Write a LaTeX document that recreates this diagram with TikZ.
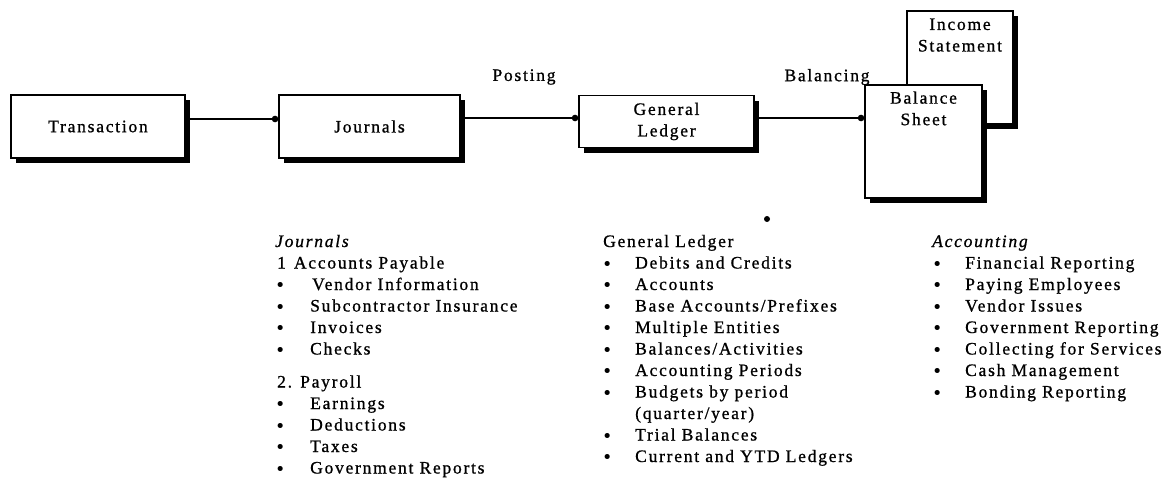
\documentclass[tikz,border=0pt]{standalone}
\usepackage{fontspec}
\setmainfont{Liberation Serif}[LetterSpace=10, FakeBold=0.9]
\newfontfamily\dotfont{DejaVu Sans}
\usetikzlibrary{arrows.meta,shadows}
% a heavier list bullet
\newcommand\itemdot{\raisebox{-1.5pt}{\dotfont •}}
\begin{document}
\begin{tikzpicture}[x=1pt,y=-1pt,
  every node/.style={font=\fontsize{17.5}{21.5}\selectfont, inner sep=0pt},
  stage/.style={draw=black, line width=1.4pt, fill=white,
    drop shadow={shadow xshift=5pt, shadow yshift=-5pt, fill=black, opacity=1}},
  link/.style={line width=1.4pt, -{Circle[length=6.5pt]}},
  listcol/.style={anchor=base west, align=left},
  dotmark/.style={circle, fill=black, minimum size=6pt}
]
\useasboundingbox (0,0) rectangle (1172,487);

% process chain
\node[stage, minimum width=174pt, minimum height=63pt] (trans) at (98,126.5) {Transaction};
\node[stage, minimum width=181pt, minimum height=63pt] (jour) at (369.5,126.5) {Journals};
\node[stage, minimum width=175pt, minimum height=52pt, align=center] (gl) at (666.5,121.5) {General\\Ledger};

% financial statements (income statement sits behind the balance sheet)
\node[stage, minimum width=106pt, minimum height=113pt] (inc) at (960,67.5) {};
\node[anchor=north, align=center] (inctext) at ([yshift=-8pt]inc.north) {Income\\Statement};
\node[stage, minimum width=117pt, minimum height=113pt] (bs) at (923.5,141.5) {};
\node[anchor=north, align=center] (bstext) at ([yshift=-7pt]bs.north) {Balance\\Sheet};

% connectors
\draw[link] ([yshift=7.5pt]trans.east) -- ([yshift=7.5pt]jour.west);
\draw[link] ([yshift=8.5pt]jour.east) -- ([yshift=3.5pt]gl.west);
\draw[link] ([yshift=3.5pt]gl.east) -- ([yshift=23.5pt]bs.west);

\node (post) at (524,77) {Posting};
\node (bal) at (827,77) {Balancing};

\node[dotmark] (stray) at (767,219) {};

% detail lists
\node[listcol] (jlist) at (275,247) {\begin{tabular}[t]{@{}p{35pt}@{}l@{}}
\multicolumn{2}{@{}l@{}}{\itshape Journals}\\
\multicolumn{2}{@{}l@{}}{\hspace{2pt}1\hspace{8pt}Accounts Payable}\\
\itemdot & \hspace{2pt}Vendor Information\\
\itemdot & Subcontractor Insurance\\
\itemdot & Invoices\\
\itemdot & Checks\\[11.5pt]
\multicolumn{2}{@{}l@{}}{\hspace{2pt}2. Payroll}\\
\itemdot & Earnings\\
\itemdot & Deductions\\
\itemdot & Taxes\\
\itemdot & Government Reports
\end{tabular}};

\node[listcol] (gllist) at (602,247) {\begin{tabular}[t]{@{}p{33pt}@{}l@{}}
\multicolumn{2}{@{}l@{}}{\hspace{1pt}General Ledger}\\
\itemdot & Debits and Credits\\
\itemdot & Accounts\\
\itemdot & Base Accounts/Prefixes\\
\itemdot & Multiple Entities\\
\itemdot & Balances/Activities\\
\itemdot & Accounting Periods\\
\itemdot & Budgets by period\\
 & (quarter/year)\\
\itemdot & Trial Balances\\
\itemdot & Current and YTD Ledgers
\end{tabular}};

\node[listcol] (aclist) at (932,247) {\begin{tabular}[t]{@{}p{33pt}@{}l@{}}
\multicolumn{2}{@{}l@{}}{\itshape Accounting}\\
\itemdot & Financial Reporting\\
\itemdot & Paying Employees\\
\itemdot & Vendor Issues\\
\itemdot & Government Reporting\\
\itemdot & Collecting for Services\\
\itemdot & Cash Management\\
\itemdot & Bonding Reporting
\end{tabular}};
\end{tikzpicture}
\end{document}
